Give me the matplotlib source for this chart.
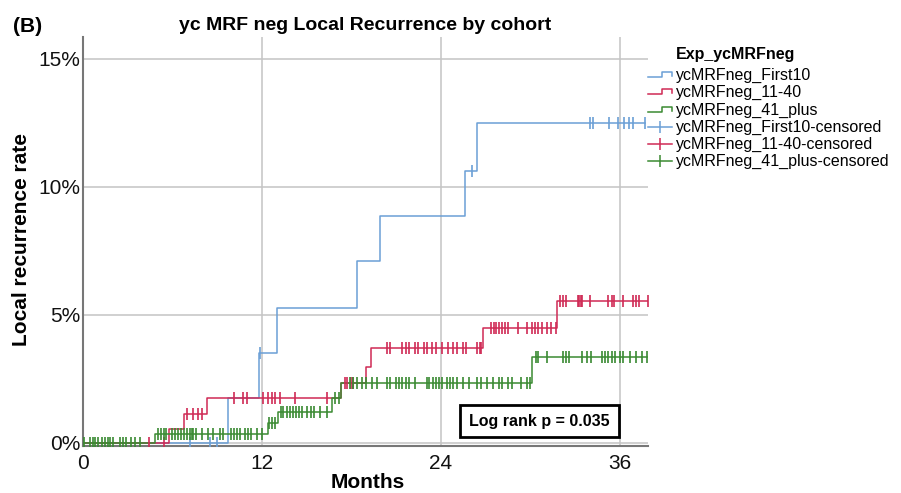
import numpy as np
import matplotlib
matplotlib.use("Agg")
import matplotlib.pyplot as plt
from matplotlib.lines import Line2D

plt.rcParams['font.family'] = ['Liberation Sans', 'DejaVu Sans']

# DATA (months, cumulative local recurrence %)
first10_event_t = [9.7, 11.8, 13.0, 18.4, 19.9, 25.6, 26.4]
first10_event_y = [1.76, 3.5, 5.27, 7.1, 8.85, 10.6, 12.5]
first10_cens = [7.2, 8.5, 9.0, 11.9, 26.1, 34.0, 34.2, 35.3, 35.9, 36.3, 36.6, 36.9, 37.7]

mid_event_t = [5.8, 6.8, 8.3, 17.3, 19.0, 19.3, 26.8, 31.8]
mid_event_y = [0.55, 1.13, 1.76, 2.35, 2.95, 3.7, 4.5, 5.55]
mid_cens = [4.4, 5.4, 7.0, 7.4, 7.7, 8.0, 10.1, 10.7, 11.0, 12.1, 12.4, 12.7, 12.9, 13.2,
            14.2, 16.4, 17.6, 17.7, 18.0, 18.1, 20.4, 20.6, 21.4, 21.7, 21.9, 22.3, 22.5,
            22.9, 23.1, 23.4, 23.7, 24.1, 24.5, 24.8, 25.1, 25.5, 25.7, 26.4, 26.6, 26.7,
            27.4, 27.6, 27.7, 27.9, 28.1, 28.3, 28.5, 29.2, 29.8, 30.1, 30.3, 30.5, 30.8,
            31.1, 31.4, 31.7, 32.0, 32.2, 32.4, 33.2, 33.3, 33.4, 33.5, 34.0, 35.2, 35.5,
            35.6, 36.2, 36.9, 37.1, 37.3, 37.9]

plus_event_t = [4.8, 12.4, 13.1, 16.7, 17.3, 30.1]
plus_event_y = [0.33, 0.78, 1.2, 1.76, 2.35, 3.36]
plus_cens = [0.1, 0.5, 0.7, 0.8, 1.0, 1.3, 1.5, 1.7, 1.8, 2.0, 2.5, 2.7, 2.9, 3.2, 3.5, 3.8,
             5.0, 5.2, 5.4, 5.6, 6.0, 6.2, 6.4, 6.6, 6.8, 7.0, 7.2, 7.3, 7.4, 7.6, 8.0, 8.4,
             8.7, 9.2, 9.4, 9.9, 10.1, 10.3, 10.5, 10.9, 11.1, 11.3, 11.7, 12.0,
             12.5, 12.7, 12.9, 13.3, 13.4, 13.7, 13.9, 14.1, 14.3, 14.5, 14.7, 15.0, 15.3,
             15.5, 15.9, 16.4, 16.9, 17.2, 17.9, 18.1, 18.4, 18.7, 19.0, 19.4, 19.7, 20.4,
             20.6, 21.0, 21.2, 21.4, 21.7, 21.9, 22.3, 23.1, 23.2, 23.5, 23.7, 23.9, 24.1,
             24.4, 24.6, 24.8, 25.1, 25.5, 25.9, 26.4, 26.7, 27.1, 27.5, 27.9, 28.1, 28.5,
             28.8, 29.4, 29.8, 30.0, 30.4, 30.5, 31.1, 32.2, 32.4, 32.6, 33.5, 33.8, 34.1,
             34.8, 35.0, 35.2, 35.5, 35.7, 36.0, 36.2, 36.7, 37.1, 37.5, 37.8]

groups = ["ycMRFneg_First10", "ycMRFneg_11-40", "ycMRFneg_41_plus"]
colors = ["#6b9fd6", "#cf2a55", "#3a8a32"]

series = [
    (first10_event_t, first10_event_y, first10_cens),
    (mid_event_t, mid_event_y, mid_cens),
    (plus_event_t, plus_event_y, plus_cens),
]

fig = plt.figure(figsize=(9.01, 4.93), dpi=100)
ax = fig.add_axes([83 / 901, 1 - 446 / 493, (648 - 83) / 901, (446 - 37) / 493])

for (et, ey, cens), col in zip(series, colors):
    et = np.array(et)
    levels = np.concatenate([[0.0], ey])
    end = max(cens)
    xs = np.concatenate([[0.0], et, [end]])
    ys = np.concatenate([levels, [levels[-1]]])
    ax.step(xs, ys, where="post", color=col, lw=1.1, zorder=3)
    cy = levels[np.searchsorted(et, np.array(cens), side="right")]
    ax.plot(cens, cy, ls="none", marker="|", ms=8, mew=1.2, color=col, zorder=4)

ax.set_xlim(0, 37.9)
ax.set_ylim(-0.12, 15.85)
ax.set_xticks([0, 12, 24, 36])
ax.set_yticks([0, 5, 10, 15])
ax.set_yticklabels(["0%", "5%", "10%", "15%"])
ax.tick_params(length=0, labelsize=15, colors="#111111")
ax.tick_params(axis="y", pad=2)
ax.tick_params(axis="x", pad=6)
ax.grid(True, color="#c4c4c4", lw=1.1)
ax.set_axisbelow(True)
for s in ["top", "right"]:
    ax.spines[s].set_visible(False)
for s in ["left", "bottom"]:
    ax.spines[s].set_color("#777777")
    ax.spines[s].set_linewidth(1.5)

fig.text(13 / 901, 1 - 27 / 493, "(B)", fontsize=15, fontweight="bold", va="center", ha="left")
fig.text(365 / 901, 1 - 25 / 493, "yc MRF neg Local Recurrence by cohort", fontsize=14,
         fontweight="bold", va="center", ha="center")
fig.text(22 / 901, 1 - 240 / 493, "Local recurrence rate", fontsize=15, fontweight="bold",
         rotation=90, va="center", ha="center")
fig.text(368 / 901, 1 - 483 / 493, "Months", fontsize=15, fontweight="bold", va="center", ha="center")

# log rank box
ax.text(0.808, 0.061, "Log rank p = 0.035", transform=ax.transAxes, fontsize=11.5,
        fontweight="bold", ha="center", va="center", zorder=6,
        bbox=dict(boxstyle="square,pad=0.55", fc="white", ec="black", lw=2))

# legend (drawn in figure pixels)
def fx(px):
    return px / 901

def fy(py):
    return 1 - py / 493

fig.text(fx(676), fy(55), "Exp_ycMRFneg", fontsize=11.5, fontweight="bold", va="center", ha="left")
legend_rows = [75, 92, 110, 127, 144, 161]
for i, (name, col) in enumerate(zip(groups, colors)):
    y = legend_rows[i]
    fig.add_artist(Line2D([fx(648), fx(662), fx(662), fx(672), fx(672)],
                          [fy(y + 2), fy(y + 2), fy(y - 3), fy(y - 3), fy(y + 1)],
                          color=col, lw=1.1))
    fig.text(fx(676), fy(y), name, fontsize=11.5, va="center", ha="left")
for i, (name, col) in enumerate(zip(groups, colors)):
    y = legend_rows[i + 3]
    fig.add_artist(Line2D([fx(648), fx(672)], [fy(y), fy(y)], color=col, lw=1.1))
    fig.add_artist(Line2D([fx(660)], [fy(y)], marker="|", ms=9, mew=1.1, color=col, ls="none"))
    fig.text(fx(676), fy(y), name + "-censored", fontsize=11.5, va="center", ha="left")

fig.savefig("out.png", dpi=100)
